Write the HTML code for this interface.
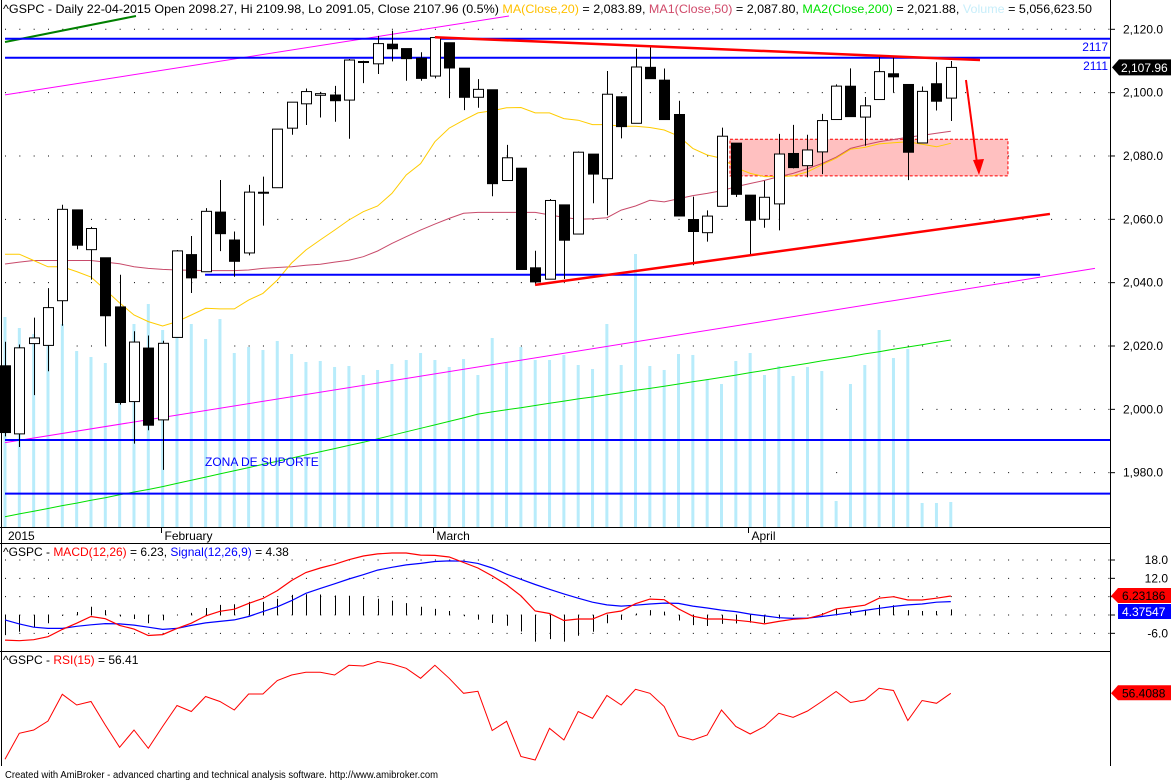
<!DOCTYPE html>
<html><head><meta charset="utf-8"><title>^GSPC Daily</title>
<style>
html,body{margin:0;padding:0;background:#fff;}
svg{display:block;font-family:"Liberation Sans",Arial,sans-serif;}
</style></head>
<body>
<svg id="chart" width="1171" height="781" viewBox="0 0 1171 781" xmlns="http://www.w3.org/2000/svg"></svg>
<script>
// ===== DATA =====
const dates = ["01-15","01-16","01-20","01-21","01-22","01-23","01-26","01-27","01-28","01-29","01-30",
"02-02","02-03","02-04","02-05","02-06","02-09","02-10","02-11","02-12","02-13","02-17","02-18","02-19","02-20","02-23","02-24","02-25","02-26","02-27",
"03-02","03-03","03-04","03-05","03-06","03-09","03-10","03-11","03-12","03-13","03-16","03-17","03-18","03-19","03-20","03-23","03-24","03-25","03-26","03-27","03-30","03-31",
"04-01","04-02","04-06","04-07","04-08","04-09","04-10","04-13","04-14","04-15","04-16","04-17","04-20","04-21","04-22"];
const opens = [2013.75,1992.25,2020.76,2020.19,2034.30,2062.98,2050.42,2047.86,2032.34,2002.45,2019.35,
1996.67,2022.71,2048.86,2043.45,2062.28,2053.47,2049.38,2068.55,2069.98,2088.78,2096.47,2099.16,2099.25,2097.65,2109.83,2109.10,2115.30,2113.91,2110.88,
2105.23,2115.76,2107.72,2098.54,2100.91,2072.25,2076.14,2044.69,2041.10,2064.56,2055.35,2080.59,2072.84,2098.69,2090.32,2107.99,2103.94,2093.10,2059.94,2055.78,2064.11,2084.05,
2067.63,2060.03,2064.87,2080.79,2076.94,2081.29,2091.51,2102.03,2092.28,2097.82,2105.96,2102.58,2084.11,2102.82,2098.27];
const highs = [2021.35,2020.46,2028.94,2038.29,2064.62,2062.98,2057.62,2047.86,2042.49,2024.64,2023.32,
2021.66,2050.30,2054.74,2063.55,2072.40,2056.16,2070.86,2073.48,2088.53,2097.03,2101.30,2100.23,2102.13,2110.61,2110.05,2117.94,2119.59,2113.91,2112.74,
2117.52,2115.76,2107.72,2104.25,2100.91,2083.49,2076.14,2050.08,2066.41,2064.56,2081.41,2080.59,2106.85,2098.69,2113.92,2114.86,2107.63,2097.43,2067.15,2062.83,2088.97,2084.05,
2067.63,2072.17,2086.99,2089.81,2086.69,2093.31,2102.61,2107.65,2098.62,2111.91,2111.30,2102.58,2101.94,2109.64,2109.98];
const lows = [1991.47,1988.12,2004.49,2012.04,2026.38,2050.54,2040.97,2019.91,2001.49,1989.18,1993.38,
1980.90,2022.71,2036.72,2043.45,2049.97,2041.88,2048.62,2057.99,2069.98,2086.70,2089.80,2092.15,2090.79,2085.44,2103.00,2105.87,2109.89,2103.76,2103.75,
2104.50,2098.26,2094.49,2095.22,2067.27,2072.21,2044.16,2039.69,2041.10,2041.17,2055.35,2065.08,2061.23,2085.56,2090.32,2104.42,2091.50,2061.05,2045.50,2052.96,2064.11,2067.04,
2048.38,2057.32,2056.52,2076.10,2073.30,2074.29,2091.51,2092.33,2083.24,2097.82,2100.02,2072.37,2084.11,2094.38,2091.05];
const closes = [1992.67,2019.42,2022.55,2032.12,2063.15,2051.82,2057.09,2029.55,2002.16,2021.25,1994.99,
2020.85,2050.03,2041.51,2062.52,2055.47,2046.74,2068.59,2068.53,2088.48,2096.99,2100.34,2099.68,2097.45,2110.30,2109.66,2115.48,2113.86,2110.74,2104.50,
2117.39,2107.78,2098.53,2101.04,2071.26,2079.43,2044.16,2040.24,2065.95,2053.40,2081.19,2074.28,2099.50,2089.27,2108.10,2104.42,2091.50,2061.05,2056.15,2061.02,2086.24,2067.89,
2059.69,2066.96,2080.62,2076.33,2081.90,2091.18,2102.06,2092.43,2095.84,2106.63,2104.99,2081.18,2100.40,2097.29,2107.96];
const volumes = [4339,4111,3987,4132,4194,3636,3512,3388,4132,4194,4607,
4070,4029,4194,3884,4297,3595,3719,3657,3843,3574,3409,3430,3306,3326,3140,3244,3368,3450,3595,
3450,3306,3471,3140,3905,3388,3719,3450,3450,3554,3347,3264,4194,3347,5640,3326,3244,3574,3554,3058,2954,3430,
3595,3140,3326,3120,3306,3223,537,2954,3347,4070,3492,3677,496,496,517];
const ma20 = [2049,2049,2047,2045,2045,2043.5,2041.8,2037.7,2033.6,2029.8,2027.7,
2026.3,2027.7,2029.8,2031.9,2031.7,2031.7,2034.5,2036.6,2040.8,2046.2,2050.3,2053.5,2056.6,2059.8,2062.4,2064.2,2068.2,2074,2077.6,
2084.5,2088.8,2091.3,2093.6,2094.3,2095.2,2095.3,2093.6,2093.6,2091.8,2091.3,2089.9,2089.9,2089.4,2089.4,2089,2088.2,2086.3,2082.4,2080.3,2079.3,2076.3,
2074.5,2073.5,2073.5,2073.7,2075,2077.2,2079.3,2082.1,2082.7,2083.8,2084.2,2084.5,2083.7,2082.9,2084];
const ma50 = [2045.9,2046.5,2047,2047,2047,2047,2047,2046.5,2046,2045,2044.5,
2044.2,2044,2043.9,2043.8,2043.8,2043.8,2044,2044.5,2044.8,2045,2045.5,2045.8,2046.5,2047.1,2048.2,2050,2052.4,2054.5,2056.6,
2058.5,2060.3,2061.9,2062.2,2062.2,2062.2,2062.2,2062.2,2061.4,2060.6,2060,2060.2,2060.5,2062.9,2064.2,2066,2065.5,2066.5,2067.5,2068.2,2069,2070.3,
2071.3,2072.3,2073.5,2074.5,2076,2077.6,2079.6,2082.4,2083.5,2084.5,2085.2,2085.9,2086.5,2087.2,2087.8];
const ma200 = [1966.1,1967.0,1967.8,1968.7,1969.6,1970.4,1971.3,1972.1,1973.0,1973.9,1974.7,
1975.6,1976.6,1977.6,1978.6,1979.6,1980.6,1981.6,1982.6,1983.6,1984.6,1985.6,1986.6,1987.6,1988.6,1989.6,1990.7,1991.8,1992.9,1994.0,
1995.1,1996.2,1997.3,1998.5,1999.2,1999.9,2000.5,2001.2,2001.9,2002.6,2003.3,2003.9,2004.6,2005.3,2006.0,2006.6,2007.3,2008.0,2008.7,2009.4,2010.1,2010.8,
2011.6,2012.3,2013.1,2013.8,2014.5,2015.3,2016.0,2016.7,2017.5,2018.2,2019.0,2019.7,2020.4,2021.2,2021.9];
const macd = [-8.2,-8.4,-8.1,-7.1,-4.7,-2.7,-0.5,-1.2,-3.4,-4.6,-6.7,
-6.4,-4.4,-2.7,-0.3,1.2,1.9,3.8,5.4,8.0,11.3,13.9,15.4,16.6,18.1,19.3,20.0,20.3,20.3,19.6,
19.5,19.0,17.2,15.4,12.8,9.9,6.3,1.3,0.5,-1.8,-1.3,-1.3,0.6,1.3,3.7,5.2,5.0,2.0,-0.4,-1.3,-1.3,-1.7,
-2.2,-2.9,-2.1,-1.4,-1.1,0.1,2.0,2.6,3.2,5.5,6.0,4.9,4.9,5.5,6.23];
const signal = [-1.6,-2.9,-4.0,-4.4,-4.4,-3.7,-3.2,-2.8,-2.9,-3.3,-4.0,
-4.7,-4.4,-3.4,-2.6,-2.1,-1.6,-0.5,1.1,2.7,4.7,7.1,8.7,10.2,11.8,13.2,14.7,15.6,16.4,16.9,
17.5,17.7,17.6,16.9,15.4,13.4,11.7,10.0,8.4,6.9,5.5,4.2,3.3,2.9,3.2,3.6,3.9,3.8,2.9,2.3,1.6,1.1,
0.3,-0.3,-0.9,-1.1,-1.0,-0.5,0.1,0.8,1.5,2.2,2.8,3.3,3.6,4.2,4.38];
const rsi = [30.0,40.4,41.7,45.3,56.0,51.7,53.1,43.7,34.8,41.7,34.4,
43.1,51.5,49.1,55.1,53.1,49.7,56.1,56.1,61.5,63.7,64.8,64.8,63.7,67.6,67.3,69.1,68.1,66.4,62.4,
67.6,62.4,56.4,57.2,41.5,45.2,31.1,29.7,42.4,37.7,49.1,46.4,55.5,51.7,58.0,56.4,51.1,39.3,37.7,39.7,49.7,43.1,
40.1,43.1,48.4,46.8,49.3,53.1,57.1,52.7,53.7,58.4,57.5,45.5,53.5,52.4,56.41];
const priceTicks = [2120,2100,2080,2060,2040,2020,2000,1980];
const priceTickLabels = ["2,120.0","2,100.0","2,080.0","2,060.0","2,040.0","2,020.0","2,000.0","1,980.0"];
const macdGrid = [18,12,6,0,-6];
const macdTickLabels = ["18.0","12.0","","","-6.0"];
const monthIdx = [0,11,30,52];
const monthLabels = ["2015","February","March","April"];

// ===== AXES =====
const X0=5, DX=14.33, RIGHT=1110;
function xOf(i){return X0+i*DX;}
function yP(p){return 29.3+(2120-p)*3.167;}
function yV(v){return 527-v/20.66;}
function yM(m){return 615-m*3.055;}
function yR(r){return 834.3-r*2.5;}

const NS="http://www.w3.org/2000/svg";
const svg=document.getElementById('chart');
function mk(tag,attrs,parent){const e=document.createElementNS(NS,tag);for(const k in attrs)e.setAttribute(k,attrs[k]);(parent||svg).appendChild(e);return e;}
function g(){return mk('g',{});}
let el;

// ----- gridlines (dotted) -----
const grid=g();


priceTicks.forEach((p,k)=>{
  el=mk('line',{x1:X0,x2:RIGHT,y1:yP(p),y2:yP(p),stroke:'#000','stroke-width':1,'stroke-dasharray':'1 '+(DX-1).toFixed(2)},grid);
  
  
});

// ----- volume -----
const vg=g();


volumes.forEach((v,i)=>{
  el=mk('rect',{x:xOf(i)-1.5,y:yV(v),width:3,height:527-yV(v),fill:'#b8ecfb'},vg);
  
  
});

// ----- pink zone -----
el=mk('rect',{x:xOf(50.59),y:yP(2085.3),width:xOf(69.99)-xOf(50.59),height:yP(2073.7)-yP(2085.3),fill:'#ffc0c0',stroke:'#ff0000','stroke-width':1,'stroke-dasharray':'3 2'});



// ----- trend lines -----
function tl(i1,p1,i2,p2,color,w){return mk('line',{x1:xOf(i1),y1:yP(p1),x2:xOf(i2),y2:yP(p2),stroke:color,'stroke-width':w});}
el=tl(0,2099.3,35.17,2124.2,'#ff00ff',1);


el=tl(0,1989.5,76.06,2044.5,'#ff00ff',1);


el=tl(0,2116,9.14,2124.2,'#008000',2);



// ----- moving averages -----
function path(arr,yf){return arr.map((v,i)=>(i?'L':'M')+xOf(i).toFixed(1)+' '+yf(v).toFixed(1)).join(' ');}
el=mk('path',{d:path(ma200,yP),fill:'none',stroke:'#00e000','stroke-width':1});


el=mk('path',{d:path(ma50,yP),fill:'none',stroke:'#c84a6a','stroke-width':1});


el=mk('path',{d:path(ma20,yP),fill:'none',stroke:'#ffcc00','stroke-width':1});



// ----- horizontal blue lines -----
el=mk('line',{x1:X0,x2:RIGHT,y1:yP(2117),y2:yP(2117),stroke:'#0000ff','stroke-width':2});


el=mk('line',{x1:X0,x2:RIGHT,y1:yP(2111),y2:yP(2111),stroke:'#0000ff','stroke-width':2});


el=mk('line',{x1:xOf(13.96),x2:xOf(72.23),y1:yP(2042.5),y2:yP(2042.5),stroke:'#0000ff','stroke-width':2});


el=mk('line',{x1:X0,x2:RIGHT,y1:yP(1990.3),y2:yP(1990.3),stroke:'#0000ff','stroke-width':2});


el=mk('line',{x1:X0,x2:RIGHT,y1:yP(1973.4),y2:yP(1973.4),stroke:'#0000ff','stroke-width':2});



// ----- candles -----
const cg=g();


dates.forEach((d,i)=>{
  const x=Math.round(xOf(i))+0.5, o=opens[i], c=closes[i];
  el=mk('line',{x1:x,x2:x,y1:yP(highs[i]),y2:yP(lows[i]),stroke:'#000','stroke-width':1},cg);
  
  
  const top=yP(Math.max(o,c)), bot=yP(Math.min(o,c));
  el=mk('rect',{x:x-5,y:top,width:10,height:Math.max(1,bot-top),fill:c>=o?'#fff':'#000',stroke:'#000','stroke-width':1},cg);
  
  
});

// ----- red trend lines & arrow -----
el=tl(30.0,2117.5,68.04,2110.3,'#ff0000',2.5);


el=tl(36.99,2039.3,72.92,2061.7,'#ff0000',2.5);


el=tl(67.06,2104,67.85,2077,'#ff0000',2);


const ax=xOf(67.97), ay=yP(2074);
el=mk('polygon',{points:`${ax-6},${ay-15} ${ax+5},${ay-16} ${ax},${ay}`,fill:'#ff0000'});



// ----- texts on price chart -----
el=mk('text',{x:205,y:466,'font-size':12,fill:'#0000ff'});el.textContent='ZONA DE SUPORTE';


el=mk('text',{x:1108,y:yP(2117)+12,'font-size':12,fill:'#0000ff','text-anchor':'end'});el.textContent='2117';


el=mk('text',{x:1108,y:yP(2111)+12,'font-size':12,fill:'#0000ff','text-anchor':'end'});el.textContent='2111';



// ----- frame lines -----
function hl(y,x1,x2){return mk('line',{x1:x1,x2:x2,y1:y,y2:y,stroke:'#000','stroke-width':1});}
el=mk('line',{x1:1.5,x2:1.5,y1:0,y2:766,stroke:'#000','stroke-width':1});


el=mk('line',{x1:1110.5,x2:1110.5,y1:0,y2:766,stroke:'#000','stroke-width':1});


el=hl(527.5,0,1110);


el=hl(543.5,0,1110);


el=hl(651.5,0,1110);



// ----- month axis -----
monthIdx.forEach((mi,k)=>{
  const x=Math.round(xOf(mi))-1.5;
  if(k>0){
    el=mk('line',{x1:x,x2:x,y1:527,y2:533,stroke:'#000','stroke-width':1});
    
    
  }
  el=mk('text',{x:k===0?8:x+3,y:540,'font-size':12,fill:'#000'});el.textContent=monthLabels[k];
  
  
});

// ----- price axis -----
priceTicks.forEach((p,k)=>{
  el=mk('line',{x1:1110,x2:1115,y1:yP(p),y2:yP(p),stroke:'#000','stroke-width':1});
  
  
  el=mk('text',{x:1123,y:yP(p)+4,'font-size':12,fill:'#000'});el.textContent=priceTickLabels[k];
  
  
});
const lastY=yP(closes[closes.length-1]);
el=mk('polygon',{points:`1112,${lastY} 1119,${lastY-8} 1171,${lastY-8} 1171,${lastY+8} 1119,${lastY+8}`,fill:'#000'});


el=mk('text',{x:1121,y:lastY+4.5,'font-size':12,fill:'#fff'});el.textContent='2,107.96';



// ----- header -----
const hdr=mk('text',{x:3,y:13,'font-size':12,fill:'#000',textLength:1089,lengthAdjust:'spacingAndGlyphs'});


[["^GSPC - Daily 22-04-2015 Open 2098.27, Hi 2109.98, Lo 2091.05, Close 2107.96 (0.5%) ","#000"],["MA(Close,20)","#ffc000"],[" = 2,083.89, ","#000"],["MA1(Close,50)","#d04a6a"],[" = 2,087.80, ","#000"],["MA2(Close,200)","#00e000"],[" = 2,021.88, ","#000"],["Volume","#c8eefa"],[" = 5,056,623.50","#000"]].forEach(s=>{
  const t=mk('tspan',{fill:s[1]},hdr);t.textContent=s[0];
});

// ===== MACD PANEL =====
macdGrid.forEach((m,k)=>{
  el=mk('line',{x1:X0,x2:RIGHT,y1:yM(m),y2:yM(m),stroke:'#000','stroke-width':1,'stroke-dasharray':'1 '+(DX-1).toFixed(2)});
  
  
  el=mk('line',{x1:1110,x2:1115,y1:yM(m),y2:yM(m),stroke:'#000','stroke-width':1});
  
  
  if(macdTickLabels[k]){
    el=mk('text',{x:1168,y:yM(m)+4,'font-size':12,fill:'#000','text-anchor':'end'});el.textContent=macdTickLabels[k];
    
    
  }
});
const hg=g();


macd.forEach((m,i)=>{
  const h=m-signal[i], x=Math.round(xOf(i))+0.5;
  el=mk('line',{x1:x,x2:x,y1:yM(0),y2:yM(h),stroke:'#000','stroke-width':1},hg);
  
  
});
el=mk('path',{d:path(signal,yM),fill:'none',stroke:'#0000ff','stroke-width':1.2});


el=mk('path',{d:path(macd,yM),fill:'none',stroke:'#ff0000','stroke-width':1.2});


const mh=mk('text',{x:3,y:556,'font-size':12,fill:'#000'});


[["^GSPC - ","#000"],["MACD(12,26)","#ff0000"],[" = 6.23, ","#000"],["Signal(12,26,9)","#0000ff"],[" = 4.38","#000"]].forEach(s=>{const t=mk('tspan',{fill:s[1]},mh);t.textContent=s[0];});
const my=yM(macd[macd.length-1]);
el=mk('polygon',{points:`1111,${my} 1118,${my-8} 1171,${my-8} 1171,${my+7} 1118,${my+7}`,fill:'#ff0000'});


el=mk('text',{x:1122,y:my+4,'font-size':12,fill:'#000'});el.textContent='6.23186';


el=mk('rect',{x:1118,y:604,width:53,height:15,fill:'#0000ff'});


el=mk('text',{x:1122,y:616,'font-size':12,fill:'#fff'});el.textContent='4.37547';



// ===== RSI PANEL =====
el=mk('path',{d:path(rsi,yR),fill:'none',stroke:'#ff0000','stroke-width':1});


const rh=mk('text',{x:3,y:664,'font-size':12,fill:'#000'});


[["^GSPC - ","#000"],["RSI(15)","#ff0000"],[" = 56.41","#000"]].forEach(s=>{const t=mk('tspan',{fill:s[1]},rh);t.textContent=s[0];});
const ry=yR(rsi[rsi.length-1]);
el=mk('polygon',{points:`1111,${ry} 1118,${ry-8} 1171,${ry-8} 1171,${ry+7} 1118,${ry+7}`,fill:'#ff0000'});


el=mk('text',{x:1122,y:ry+4,'font-size':12,fill:'#000'});el.textContent='56.4088';



// ===== FOOTER =====
el=mk('text',{x:5,y:778,'font-size':10,fill:'#000',textLength:433,lengthAdjust:'spacingAndGlyphs'});
el.textContent='Created with AmiBroker - advanced charting and technical analysis software. http://www.amibroker.com';


</script>
</body></html>
